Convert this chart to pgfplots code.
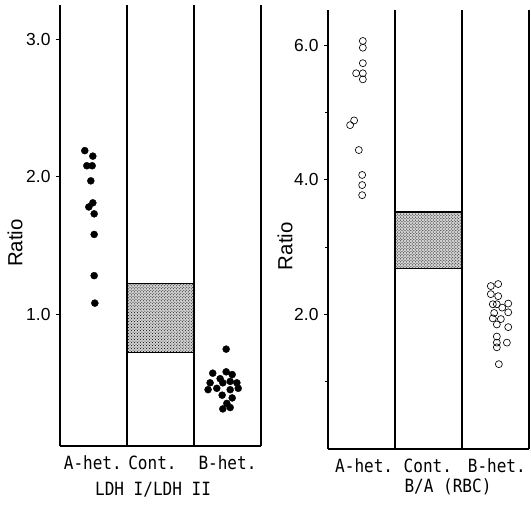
\documentclass[border=0pt]{standalone}
\usepackage{pgfplots}
\pgfplotsset{compat=1.18}
\usepackage{fontspec}
\setmainfont{Liberation Sans}
\newfontfamily\monofont[FakeStretch=0.88]{DejaVu Sans Mono}
\usetikzlibrary{patterns}

\pgfplotsset{
 panel/.style={
  scale only axis, width=201bp,
  xmin=0, xmax=3,
  axis x line=bottom, axis y line=left,
  axis line style={-, line width=1.2pt},
  x tick style={draw=none},
  x tick label style={font=\monofont\fontsize{18.3}{20}\selectfont, yshift=-2bp},
  extra x ticks={1,2,3}, extra x tick labels={},
  extra x tick style={grid=major, major grid style={black, line width=1.2pt}},
  tick align=outside, major tick length=4bp, minor tick length=3bp,
  y tick style={black, line width=0.6pt},
  y tick label style={font=\fontsize{17.5}{19}\selectfont, xshift=-2bp},
  yticklabel style={/pgf/number format/.cd, fixed, fixed zerofill, precision=1, assume math mode=true},
  ylabel=Ratio,
  ylabel style={font=\fontsize{20.5}{22}\selectfont, anchor=center},
  xlabel style={font=\monofont\fontsize{18.3}{20}\selectfont, anchor=center},
  clip=false,
 },
 stipple/.style={draw=black, line width=1.2pt, fill=gray!35, postaction={pattern=crosshatch dots}},
}

\begin{document}
\begin{tikzpicture}
\useasboundingbox (0,0) rectangle (531bp,-507bp);

% ---------- Left panel: LDH I/LDH II ----------
\begin{axis}[panel,
  at={(60bp,-446bp)}, anchor=south west, height=441bp,
  ymin=0.04, ymax=3.25,
  ytick={1,2,3},
  xtick={0.49,1.38,2.5}, xticklabels={A-het.,Cont.,B-het.},
  xlabel={LDH I/LDH II},
  xlabel style={at={(axis description cs:0.463,-0.098)}},
  ylabel style={at={(axis description cs:-0.224,0.46)}},
]
\addplot[stipple]
  coordinates {(1,0.72) (2,0.72) (2,1.22) (1,1.22) (1,0.72)};
\addplot[only marks, mark=*, mark size=3.5bp, black] coordinates {
 (0.37,2.19) (0.49,2.15) (0.40,2.08) (0.48,2.08) (0.46,1.97)
 (0.49,1.81) (0.43,1.78) (0.51,1.73) (0.51,1.58) (0.51,1.28) (0.52,1.08)
};
\addplot[only marks, mark=*, mark size=3.5bp, black] coordinates {
 (2.48,0.745) (2.28,0.57) (2.48,0.58) (2.57,0.56) (2.39,0.53)
 (2.24,0.50) (2.64,0.50) (2.43,0.50) (2.54,0.51) (2.21,0.45)
 (2.66,0.46) (2.34,0.46) (2.54,0.45) (2.42,0.41) (2.57,0.39)
 (2.49,0.35) (2.54,0.32) (2.43,0.31)
};
\end{axis}

% ---------- Right panel: B/A (RBC) ----------
\begin{axis}[panel,
  at={(328bp,-449bp)}, anchor=south west, height=439bp,
  ymin=0, ymax=6.52,
  ytick={2,4,6}, minor ytick={1,3,5},
  xtick={0.54,1.49,2.52}, xticklabels={A-het.,Cont.,B-het.},
  xlabel={B/A (RBC)},
  xlabel style={at={(axis description cs:0.597,-0.087)}},
  ylabel style={at={(axis description cs:-0.214,0.462)}},
]
\addplot[stipple]
  coordinates {(1,2.68) (2,2.68) (2,3.52) (1,3.52) (1,2.68)};
\addplot[only marks, mark=o, mark size=3.5bp, black, mark options={line width=0.65pt}] coordinates {
 (0.52,6.06) (0.52,5.96) (0.52,5.73) (0.42,5.58) (0.52,5.58) (0.52,5.49)
 (0.39,4.88) (0.33,4.81) (0.46,4.44) (0.51,4.07) (0.51,3.92) (0.51,3.77)
};
\addplot[only marks, mark=o, mark size=3.5bp, black, mark options={line width=0.65pt}] coordinates {
 (2.43,2.42) (2.54,2.45) (2.43,2.30) (2.54,2.27) (2.46,2.15) (2.69,2.16)
 (2.52,2.15) (2.60,2.10) (2.69,2.03) (2.48,2.02) (2.46,1.94) (2.58,1.93)
 (2.52,1.85) (2.69,1.81) (2.52,1.67) (2.67,1.58) (2.52,1.58) (2.52,1.51)
 (2.55,1.26)
};
\end{axis}
\end{tikzpicture}
\end{document}
